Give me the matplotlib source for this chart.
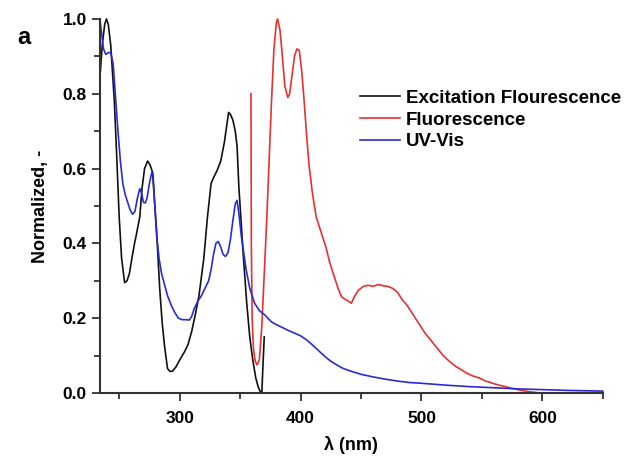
import matplotlib
matplotlib.use("Agg")
import matplotlib.pyplot as plt
from matplotlib.ticker import MultipleLocator

plt.rcParams['font.family'] = ['Liberation Sans', 'DejaVu Sans']

# Excitation Flourescence (black)
exc_x = [234, 236, 238, 239.5, 241, 243, 246, 248, 250, 252, 254.5, 256.5, 258.5, 260.5, 262.7, 264,
         267, 269, 271, 273.5, 275.5, 277.6, 279.5, 281, 283.5, 285.5, 287.6, 290, 292, 294, 297, 300,
         304, 307, 310, 313, 316, 320, 323, 326, 328, 331, 334, 337, 340.5, 342, 344, 346, 347.5, 349,
         351, 352.5, 355.5, 358, 360.5, 363, 365, 366.5, 368, 369, 370]
exc_y = [0.84, 0.93, 0.985, 1.0, 0.985, 0.93, 0.78, 0.63, 0.47, 0.36, 0.295, 0.30, 0.32, 0.36, 0.40, 0.42,
         0.47, 0.55, 0.60, 0.62, 0.61, 0.59, 0.50, 0.43, 0.28, 0.19, 0.123, 0.065, 0.058, 0.058, 0.07, 0.088,
         0.11, 0.13, 0.165, 0.21, 0.26, 0.36, 0.47, 0.56, 0.575, 0.595, 0.62, 0.67, 0.75, 0.745, 0.73, 0.70, 0.66, 0.55,
         0.45, 0.375, 0.24, 0.15, 0.088, 0.04, 0.016, 0.005, 0.0, 0.08, 0.15]

# Fluorescence (red)
flu_x = [359, 359.3, 360, 361, 362.5, 364, 366, 368, 370, 372, 374, 376, 378, 380, 381, 383, 385, 387,
         389.5, 391, 393, 395, 397, 399, 401, 403, 405, 407, 410, 413, 417, 421, 424, 427, 431, 434, 437,
         440, 442, 445, 448, 452, 456, 460, 464, 468, 472, 476, 480, 484, 488, 493, 498, 503, 508, 513,
         518, 523, 528, 533, 538, 543, 548, 553, 558, 563, 568, 573, 578, 583, 588, 593, 598, 600]
flu_y = [0.80, 0.40, 0.20, 0.12, 0.085, 0.075, 0.09, 0.18, 0.32, 0.46, 0.62, 0.78, 0.92, 0.99, 1.0, 0.97,
         0.90, 0.82, 0.79, 0.80, 0.85, 0.90, 0.92, 0.915, 0.86, 0.78, 0.69, 0.61, 0.53, 0.47, 0.43, 0.39,
         0.35, 0.32, 0.28, 0.257, 0.25, 0.245, 0.24, 0.26, 0.275, 0.285, 0.288, 0.285, 0.29, 0.287, 0.285,
         0.28, 0.27, 0.25, 0.235, 0.21, 0.185, 0.16, 0.14, 0.12, 0.10, 0.085, 0.072, 0.062, 0.052, 0.045,
         0.04, 0.032, 0.027, 0.022, 0.018, 0.014, 0.010, 0.007, 0.004, 0.002, 0.0, 0.0]

# UV-Vis (blue)
uv_x = [234, 235.5, 237, 239, 241, 243, 245, 247, 249, 251, 253, 255, 257, 259, 261, 263, 265, 267,
        268.5, 270, 271.5, 273, 275, 277, 278, 279.5, 281, 283, 285, 287.5, 290, 293, 296, 299, 302,
        305, 308, 310, 312, 315, 318, 321, 324, 326, 328, 330, 332, 334, 336, 338, 340, 342, 344, 346,
        347.5, 349, 351, 355, 358, 362, 366, 370, 376, 380, 385, 390, 395, 400, 405, 410, 415, 420, 425,
        430, 435, 440, 445, 450, 460, 470, 480, 490, 500, 520, 540, 560, 580, 600, 620, 650]
uv_y = [1.0, 0.96, 0.92, 0.905, 0.91, 0.91, 0.88, 0.79, 0.70, 0.62, 0.56, 0.53, 0.51, 0.49, 0.478,
        0.485, 0.52, 0.546, 0.535, 0.51, 0.508, 0.52, 0.56, 0.59, 0.585, 0.50, 0.42, 0.36, 0.32, 0.29,
        0.26, 0.235, 0.215, 0.20, 0.196, 0.196, 0.195, 0.205, 0.225, 0.245, 0.26, 0.28, 0.30, 0.33, 0.37,
        0.40, 0.405, 0.39, 0.37, 0.365, 0.375, 0.41, 0.46, 0.505, 0.515, 0.48, 0.42, 0.33, 0.28, 0.24,
        0.22, 0.21, 0.19, 0.183, 0.175, 0.167, 0.16, 0.153, 0.142, 0.128, 0.113, 0.098, 0.085, 0.075,
        0.066, 0.06, 0.055, 0.05, 0.043, 0.037, 0.032, 0.028, 0.026, 0.021, 0.017, 0.014, 0.011, 0.009,
        0.007, 0.005]

labels = ["Excitation Flourescence", "Fluorescence", "UV-Vis"]
colors = ["#111111", "#e83030", "#2a2ad8"]

fig = plt.figure(figsize=(6.24, 4.59), dpi=100)
ax = fig.add_axes([0.160, 0.1438, 0.806, 0.815])

ax.plot(exc_x, exc_y, color=colors[0], lw=1.2, label=labels[0], clip_on=False)
ax.plot(flu_x, flu_y, color=colors[1], lw=1.2, label=labels[1], clip_on=False)
ax.plot(uv_x, uv_y, color=colors[2], lw=1.2, label=labels[2], clip_on=False)

ax.set_xlim(234, 650)
ax.set_ylim(0, 1.0)
ax.xaxis.set_major_locator(MultipleLocator(100))
ax.xaxis.set_minor_locator(MultipleLocator(50))
ax.yaxis.set_major_locator(MultipleLocator(0.2))
ax.yaxis.set_minor_locator(MultipleLocator(0.1))
ax.yaxis.set_major_formatter(matplotlib.ticker.FormatStrFormatter('%.1f'))

for s in ['top', 'right']:
    ax.spines[s].set_visible(False)
for s in ['left', 'bottom']:
    ax.spines[s].set_linewidth(1.5)
    ax.spines[s].set_color('#333333')

ax.tick_params(axis='both', which='major', direction='out', length=6, width=1.3,
               labelsize=12.5, colors='#333333', labelcolor='black')
ax.tick_params(axis='x', which='major', pad=7)
ax.tick_params(axis='both', which='minor', direction='out', length=4, width=1.3, colors='#333333')
for lab in ax.get_xticklabels() + ax.get_yticklabels():
    lab.set_fontweight('bold')

ax.set_xlabel("λ (nm)", fontsize=13, fontweight='bold', labelpad=7)
ax.set_ylabel("Normalized, -", fontsize=13, fontweight='bold', labelpad=10)

leg = ax.legend(loc='center left', bbox_to_anchor=(0.577, 0.7386), bbox_transform=fig.transFigure,
                frameon=False, prop={'weight': 'bold', 'size': 13.5}, handlelength=2.15,
                handletextpad=0.3, labelspacing=0.24, borderpad=0, borderaxespad=0)

fig.text(0.028, 0.919, "a", fontsize=17, fontweight='bold', ha='left', va='center')

fig.savefig("out.png", dpi=100)
